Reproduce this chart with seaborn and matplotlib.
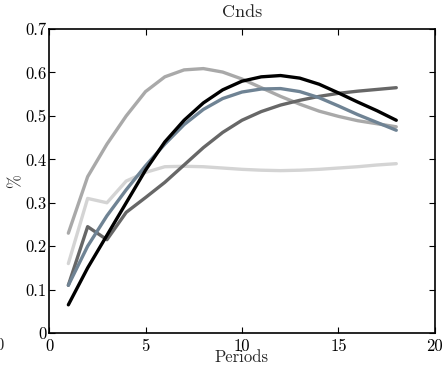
import numpy as np
import pandas as pd
import matplotlib
matplotlib.use("Agg")
import matplotlib.pyplot as plt
import seaborn as sns

periods = list(range(1, 19))
s_black = [0.065, 0.15, 0.225, 0.30, 0.375, 0.44, 0.49, 0.53, 0.56, 0.58, 0.59, 0.593, 0.587, 0.573, 0.553, 0.532, 0.512, 0.49]
s_blue = [0.11, 0.20, 0.27, 0.33, 0.385, 0.435, 0.48, 0.515, 0.54, 0.555, 0.562, 0.563, 0.556, 0.542, 0.523, 0.503, 0.485, 0.467]
s_dark = [0.11, 0.245, 0.215, 0.278, 0.312, 0.347, 0.387, 0.427, 0.462, 0.49, 0.51, 0.525, 0.536, 0.545, 0.552, 0.557, 0.561, 0.565]
s_light = [0.23, 0.36, 0.435, 0.50, 0.556, 0.59, 0.606, 0.609, 0.601, 0.585, 0.565, 0.545, 0.527, 0.511, 0.499, 0.489, 0.482, 0.475]
s_vlight = [0.16, 0.31, 0.30, 0.35, 0.37, 0.383, 0.384, 0.383, 0.38, 0.377, 0.375, 0.374, 0.375, 0.377, 0.38, 0.383, 0.387, 0.39]

names = ["a", "b", "c", "d", "e"]
colors = ["#d4d4d4", "#a9a9a9", "#676767", "#6f8394", "#000000"]
series = [s_vlight, s_light, s_dark, s_blue, s_black]

rows = []
for n, s in zip(names, series):
    for p, v in zip(periods, s):
        rows.append({"Periods": p, "val": v, "series": n})
df = pd.DataFrame(rows)

sns.set_style("ticks")
plt.rcParams["font.family"] = ["cmr10", "DejaVu Serif"]
plt.rcParams["mathtext.fontset"] = "cm"
plt.rcParams["axes.formatter.use_mathtext"] = True

fig = plt.figure(figsize=(4.46, 3.68), dpi=100)
ax = fig.add_axes([0.110, 0.095, 0.865, 0.826])

sns.lineplot(data=df, x="Periods", y="val", hue="series", hue_order=names,
             palette=dict(zip(names, colors)), linewidth=2.4, legend=False, ax=ax)

ax.set_xlim(0, 20)
ax.set_ylim(0, 0.7)
ax.set_xticks([0, 5, 10, 15, 20])
ax.set_xticklabels(["0", "5", "10", "15", "20"])
ax.set_yticks([0, 0.1, 0.2, 0.3, 0.4, 0.5, 0.6, 0.7])
ax.set_yticklabels(["0", "0.1", "0.2", "0.3", "0.4", "0.5", "0.6", "0.7"])
ax.tick_params(direction="in", top=True, right=True, length=4, width=0.8,
               labelsize=12, colors="black")
ax.tick_params(axis="x", pad=4)
ax.tick_params(axis="y", pad=2)
for sp in ax.spines.values():
    sp.set_linewidth(1.2)
    sp.set_color("black")
ax.set_xlabel("Periods", fontsize=12, labelpad=-3)
ax.set_ylabel("%", fontsize=12, labelpad=1)
ax.set_title("Cnds", fontsize=13, pad=9)
fig.text(0.0, 0.062, "0", fontsize=12, ha="center", va="center")

fig.savefig("out.png", dpi=100)
